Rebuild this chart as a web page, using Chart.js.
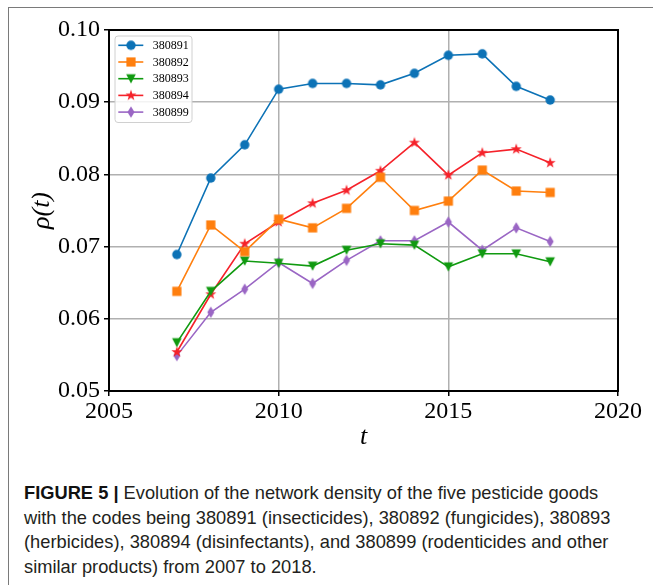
<!DOCTYPE html>
<html>
<head>
<meta charset="utf-8">
<script src="https://cdn.jsdelivr.net/npm/chart.js@4.4.0/dist/chart.umd.min.js"></script>
<style>
html,body{margin:0;padding:0;background:#fff;width:653px;height:585px;overflow:hidden;}
#wrap{position:relative;width:653px;height:585px;}
#frame{position:absolute;left:8px;top:7px;width:645px;height:578px;border-left:1px solid #7a7a7a;border-top:1px solid #7a7a7a;box-sizing:border-box;}
#chartbox{position:absolute;left:0;top:0;width:653px;height:460px;}
.cap{position:absolute;left:24px;font-family:'Liberation Sans',Arial,sans-serif;font-size:19px;line-height:19px;color:#231f20;white-space:nowrap;transform-origin:0 0;}
.cap b{font-weight:bold;color:#111;}
</style>
</head>
<body>
<div id="wrap">
  <div id="frame"></div>
  <div id="chartbox"><canvas id="cv" width="653" height="460"></canvas></div>
  <div class="cap" style="top:483px"><b>FIGURE 5 |</b> Evolution of the network density of the five pesticide goods</div>
  <div class="cap" id="cap2" style="top:507.5px">with the codes being 380891 (insecticides), 380892 (fungicides), 380893</div>
  <div class="cap" style="top:532px">(herbicides), 380894 (disinfectants), and 380899 (rodenticides and other</div>
  <div class="cap" style="top:556.5px">similar products) from 2007 to 2018.</div>
</div>
<script>
// ---- data ----
const years = [2007, 2008, 2009, 2010, 2011, 2012, 2013, 2014, 2015, 2016, 2017, 2018];
const seriesLabels = ['380891', '380892', '380893', '380894', '380899'];
const s380891 = [0.0689, 0.0795, 0.0841, 0.0918, 0.0926, 0.0926, 0.0924, 0.0940, 0.0965, 0.0967, 0.0922, 0.0903];
const s380892 = [0.0638, 0.0730, 0.0693, 0.0738, 0.0726, 0.0753, 0.0796, 0.0750, 0.0763, 0.0806, 0.0777, 0.0775];
const s380893 = [0.0567, 0.0638, 0.0680, 0.0677, 0.0673, 0.0695, 0.0704, 0.0702, 0.0672, 0.0690, 0.0690, 0.0679];
const s380894 = [0.0554, 0.0634, 0.0704, 0.0734, 0.0760, 0.0778, 0.0805, 0.0844, 0.0799, 0.0830, 0.0835, 0.0816];
const s380899 = [0.0549, 0.0609, 0.0641, 0.0678, 0.0649, 0.0681, 0.0708, 0.0708, 0.0734, 0.0695, 0.0726, 0.0707];
const xTicks = [2005, 2010, 2015, 2020];
const yTicks = [0.05, 0.06, 0.07, 0.08, 0.09, 0.10];

// ---- styles ----
const colors = ['#0c72b6', '#ff7f0e', '#109a10', '#f5222a', '#9a66c4'];
const shapes = ['circle', 'square', 'tri', 'star', 'thin'];

function marker(shape, color) {
  const S = 16, m = S / 2;
  const c = document.createElement('canvas');
  c.width = S; c.height = S;
  const g = c.getContext('2d');
  g.fillStyle = color;
  g.beginPath();
  if (shape === 'circle') {
    g.arc(m, m, 4.7, 0, Math.PI * 2);
  } else if (shape === 'square') {
    g.rect(m - 4.6, m - 4.6, 9.2, 9.2);
  } else if (shape === 'tri') {
    g.moveTo(m - 4.8, m - 4.6); g.lineTo(m + 4.8, m - 4.6); g.lineTo(m, m + 4.8); g.closePath();
  } else if (shape === 'star') {
    for (let i = 0; i < 10; i++) {
      const r = i % 2 ? 2.3 : 5.8;
      const a = -Math.PI / 2 + i * Math.PI / 5;
      const px = m + r * Math.cos(a), py = m + r * Math.sin(a);
      if (i === 0) g.moveTo(px, py); else g.lineTo(px, py);
    }
    g.closePath();
  } else if (shape === 'thin') {
    g.moveTo(m, m - 5.8); g.lineTo(m + 3.5, m); g.lineTo(m, m + 5.8); g.lineTo(m - 3.5, m); g.closePath();
  }
  g.fill();
  return c;
}

const allSeries = [s380891, s380892, s380893, s380894, s380899];
const datasets = allSeries.map((vals, i) => ({
  label: seriesLabels[i],
  data: years.map((yr, j) => ({x: yr, y: vals[j]})),
  borderColor: colors[i],
  backgroundColor: colors[i],
  borderWidth: 1.6,
  pointStyle: marker(shapes[i], colors[i]),
  pointRadius: 5,
  tension: 0,
  fill: false
}));

const serif = "'Liberation Serif','Times New Roman',serif";

const framePlugin = {
  id: 'frame',
  afterDraw(chart) {
    const ctx = chart.ctx, a = chart.chartArea;
    ctx.save();
    ctx.strokeStyle = '#000';
    ctx.lineWidth = 2;
    ctx.strokeRect(a.left, a.top, a.right - a.left, a.bottom - a.top);
    ctx.restore();
  }
};

const legendPlugin = {
  id: 'mplLegend',
  afterDraw(chart) {
    const ctx = chart.ctx, a = chart.chartArea;
    const x0 = a.left + 6, y0 = a.top + 6, w = 77, h = 86.5, r = 3;
    ctx.save();
    ctx.beginPath();
    ctx.moveTo(x0 + r, y0);
    ctx.arcTo(x0 + w, y0, x0 + w, y0 + h, r);
    ctx.arcTo(x0 + w, y0 + h, x0, y0 + h, r);
    ctx.arcTo(x0, y0 + h, x0, y0, r);
    ctx.arcTo(x0, y0, x0 + w, y0, r);
    ctx.closePath();
    ctx.fillStyle = 'rgba(255,255,255,0.85)';
    ctx.fill();
    ctx.strokeStyle = '#d0d0d0';
    ctx.lineWidth = 1;
    ctx.stroke();
    chart.data.datasets.forEach((ds, i) => {
      const cy = y0 + 9.3 + i * 16.7;
      ctx.beginPath();
      ctx.strokeStyle = ds.borderColor;
      ctx.lineWidth = 1.6;
      ctx.moveTo(x0 + 3.3, cy);
      ctx.lineTo(x0 + 28.3, cy);
      ctx.stroke();
      const img = ds.pointStyle;
      ctx.drawImage(img, x0 + 16 - img.width / 2, cy - img.height / 2);
      ctx.fillStyle = '#000';
      ctx.font = "12px " + serif;
      ctx.textBaseline = 'middle';
      ctx.textAlign = 'left';
      ctx.fillText(ds.label, x0 + 37.7, cy + 0.5);
    });
    ctx.restore();
  }
};

new Chart(document.getElementById('cv'), {
  type: 'line',
  data: {datasets},
  options: {
    responsive: false,
    animation: false,
    layout: {padding: {left: 0, right: 35, top: 30, bottom: 0}},
    plugins: {legend: {display: false}, tooltip: {enabled: false}},
    scales: {
      x: {
        type: 'linear',
        min: 2005, max: 2020,
        afterBuildTicks: s => { s.ticks = xTicks.map(v => ({value: v})); },
        afterFit: s => { s.height = 69; },
        ticks: {font: {family: serif, size: 24}, color: '#000', padding: 1, maxRotation: 0, autoSkip: false,
                callback: v => String(v)},
        grid: {color: '#b0b0b0', lineWidth: 1.5, tickColor: '#000', tickLength: 5, tickWidth: 1.5},
        border: {color: '#000', width: 2},
        title: {display: true, text: 't', color: '#000',
                font: {family: serif, size: 26, style: 'italic', lineHeight: 1.2},
                padding: {top: 0, bottom: 7}}
      },
      y: {
        type: 'linear',
        min: 0.05, max: 0.10,
        afterBuildTicks: s => { s.ticks = yTicks.map(v => ({value: v})); },
        afterFit: s => { s.width = 109; },
        ticks: {font: {family: serif, size: 24}, color: '#000', padding: 4, autoSkip: false,
                callback: v => Number(v).toFixed(2)},
        grid: {color: '#b0b0b0', lineWidth: 1.5, tickColor: '#000', tickLength: 5, tickWidth: 1.5},
        border: {color: '#000', width: 2},
        title: {display: true, text: 'ρ(t)', color: '#000',
                font: {family: serif, size: 26, style: 'italic', lineHeight: 1.2},
                padding: {top: 27, bottom: 0}}
      }
    }
  },
  plugins: [framePlugin, legendPlugin]
});

// fit caption width to reference
(function () {
  const el = document.getElementById('cap2');
  const w = el.scrollWidth;
  const k = 586 / w;
  document.querySelectorAll('.cap').forEach(c => { c.style.transform = 'scaleX(' + k + ')'; });
})();
</script>
</body>
</html>
